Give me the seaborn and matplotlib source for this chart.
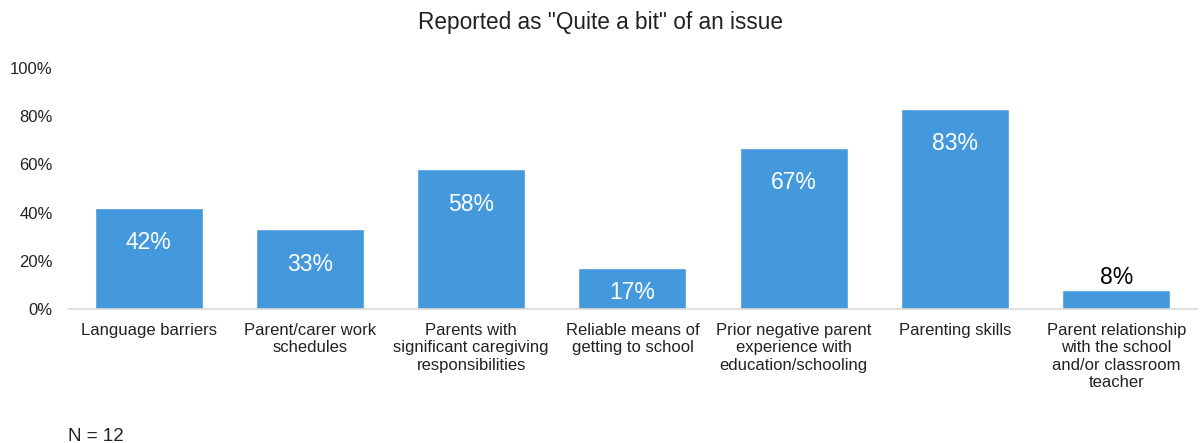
import matplotlib
matplotlib.use('Agg')
import matplotlib.pyplot as plt
import seaborn as sns
import pandas as pd

categories = [
    'Language barriers',
    'Parent/carer work\nschedules',
    'Parents with\nsignificant caregiving\nresponsibilities',
    'Reliable means of\ngetting to school',
    'Prior negative parent\nexperience with\neducation/schooling',
    'Parenting skills',
    'Parent relationship\nwith the school\nand/or classroom\nteacher',
]
values = [42, 33, 58, 17, 67, 83, 8]
labels = ['42%', '33%', '58%', '17%', '67%', '83%', '8%']

sns.set_theme(style='white')
plt.rcParams['font.family'] = ['Liberation Sans', 'DejaVu Sans']

df = pd.DataFrame({'category': categories, 'value': values})

fig = plt.figure(figsize=(12.01, 4.43), dpi=100)
ax = fig.add_axes([0.0566, 0.3025, 0.94, 0.544])
sns.barplot(data=df, x='category', y='value', color='#4499DD', saturation=1,
            width=0.67, ax=ax)

# Excel-style "inside end" labels, small bars get the label on top
for i, (v, lab) in enumerate(zip(values, labels)):
    if v > 12:
        ax.text(i, max(v - 14.5, v / 2 - 1.5), lab, ha='center', va='center',
                color='white', fontsize=16.5)
    else:
        ax.text(i, v + 5, lab, ha='center', va='center', color='black', fontsize=16.5)

ax.set_ylim(0, 100)
ax.set_yticks(range(0, 101, 20))
ax.set_yticklabels([f'{t}%' for t in range(0, 101, 20)], fontsize=12, color='#222222')
ax.tick_params(axis='x', labelsize=12, colors='#222222', length=0, pad=10)
ax.tick_params(axis='y', length=0, pad=11)
ax.set_xlabel('')
ax.set_ylabel('')
for s in ['top', 'right', 'left']:
    ax.spines[s].set_visible(False)
ax.spines['bottom'].set_color('#d9d9d9')
ax.spines['bottom'].set_linewidth(1.2)
ax.set_xlim(-0.5, 6.5)

fig.suptitle('Reported as "Quite a bit" of an issue', fontsize=16.3, y=0.975, color='#222222')
fig.text(0.057, 0.005, 'N = 12', fontsize=13.5, color='#222222', va='baseline')

fig.savefig('out.png', dpi=100)
